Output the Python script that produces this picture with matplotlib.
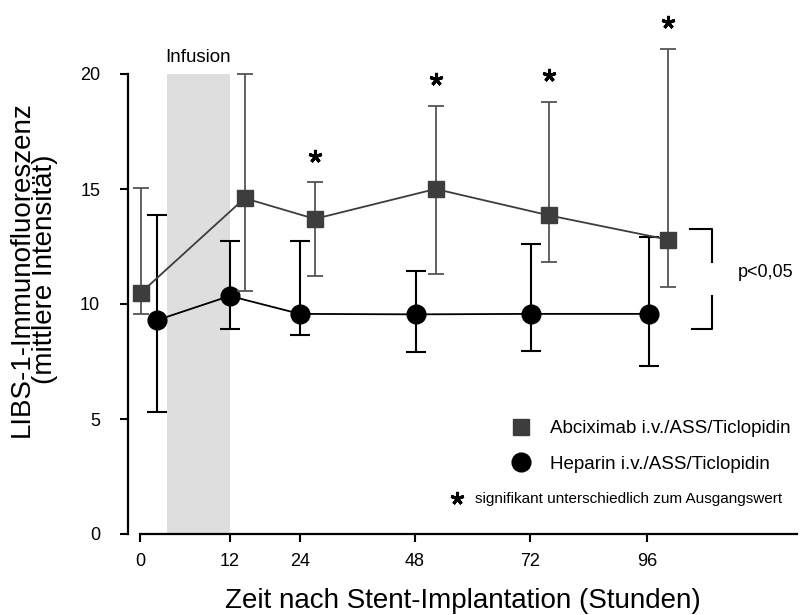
import numpy as np
import matplotlib
matplotlib.use("Agg")
import matplotlib.pyplot as plt
from matplotlib.lines import Line2D

plt.rcParams['font.family'] = ['Liberation Sans', 'DejaVu Sans']


# data (x positions follow the uneven spacing of the original time axis)
hour_labels = ['0', '12', '24', '48', '72', '96']
tick_pos = [0, 0.78, 1.39, 2.39, 3.39, 4.41]
abc_x = [0.01, 0.91, 1.52, 2.57, 3.56, 4.59]
hep_x = [0.15, 0.78, 1.39, 2.40, 3.40, 4.43]

abc_mean = [10.5, 14.6, 13.7, 15.0, 13.85, 12.8]
abc_upper = [15.06, 20.0, 15.29, 18.62, 18.8, 21.09]
abc_lower = [9.57, 10.58, 11.22, 11.29, 11.84, 10.75]

hep_mean = [9.3, 10.35, 9.57, 9.55, 9.57, 9.57]
hep_upper = [13.87, 12.75, 12.75, 11.45, 12.6, 12.93]
hep_lower = [5.29, 8.9, 8.65, 7.93, 7.96, 7.3]

signif = [False, False, True, True, True, True]
infusion = (0.235, 0.78)


def asym_err(mean, lower, upper):
    mean = np.array(mean)
    return [mean - np.array(lower), np.array(upper) - mean]


fig = plt.figure(figsize=(8, 6.15), dpi=100)
ax = fig.add_axes([128/800, 81/615, 669/800, 529/615])
ax.set_xlim(-12/115, 657/115)
ax.set_ylim(0, 23)

# infusion period
ax.fill_between(infusion, 0, 20, color='#dedede', lw=0, zorder=0)
ax.text(np.mean(infusion), 20.7, 'Infusion', ha='center', va='center', fontsize=13.5)

# heparin group
ax.errorbar(hep_x, hep_mean, yerr=asym_err(hep_mean, hep_lower, hep_upper),
            fmt='-o', color='black', ms=13.5, lw=1.3, elinewidth=1.5,
            capsize=7, capthick=1.5, zorder=3)

# abciximab group
ax.errorbar(abc_x, abc_mean, yerr=asym_err(abc_mean, abc_lower, abc_upper),
            fmt='-s', color='#3d3d3d', ms=11.5, lw=1.3, ecolor='#555555',
            elinewidth=1.3, capsize=6, capthick=1.3, zorder=4)

# significance stars
star_x = [x for x, s in zip(abc_x, signif) if s]
star_y = [u + 1.15 for u, s in zip(abc_upper, signif) if s]
ax.plot(star_x, star_y, ls='none', marker=(5, 2, 0), ms=9.5, mew=2.2,
        color='black', clip_on=False)

# p-value bracket
ax.plot([4.78, 4.974, 4.974], [13.26, 13.26, 11.83], color='black', lw=1.5)
ax.plot([4.974, 4.974, 4.80], [10.35, 8.91, 8.91], color='black', lw=1.5)
ax.text(5.44, 11.35, 'p<0,05', ha='center', va='center', fontsize=13)

# axes styling
for side in ['top', 'right']:
    ax.spines[side].set_visible(False)
ax.spines['left'].set_bounds(0, 20)
ax.spines['bottom'].set_bounds(0, 657/115)
for side in ['left', 'bottom']:
    ax.spines[side].set_linewidth(1.6)

ax.set_yticks([0, 5, 10, 15, 20])
ax.set_xticks(tick_pos)
ax.set_xticklabels(hour_labels)
ax.tick_params(axis='both', length=6, width=1.5, labelsize=13)
ax.tick_params(axis='y', pad=14)
ax.tick_params(axis='x', pad=8)

ax.set_xlabel('Zeit nach Stent-Implantation (Stunden)', fontsize=20, labelpad=13)
ax.set_ylabel('LIBS-1-Immunofluoreszenz\n(mittlere Intensität)', fontsize=20,
              labelpad=16, linespacing=0.88)

# legends
handles = [Line2D([], [], ls='none', marker='s', ms=11.5, color='#3d3d3d'),
           Line2D([], [], ls='none', marker='o', ms=13.5, color='black')]
leg1 = ax.legend(handles, ['Abciximab i.v./ASS/Ticlopidin', 'Heparin i.v./ASS/Ticlopidin'],
                 loc='upper left', bbox_to_anchor=(512/800, 1 - 420/615),
                 bbox_transform=fig.transFigure, frameon=False, fontsize=13.5,
                 handlelength=1.0, handletextpad=1.05, borderpad=0,
                 borderaxespad=0, labelspacing=1.0)
ax.add_artist(leg1)
star_handle = Line2D([], [], ls='none', marker=(5, 2, 0), ms=9.5, mew=2.2, color='black')
ax.legend([star_handle], ['signifikant unterschiedlich zum Ausgangswert'],
          loc='center left', bbox_to_anchor=(451/800, 1 - 499/615),
          bbox_transform=fig.transFigure, frameon=False, fontsize=11,
          handlelength=0.8, handletextpad=0.8, borderpad=0, borderaxespad=0)

fig.savefig('out.png', dpi=100)
